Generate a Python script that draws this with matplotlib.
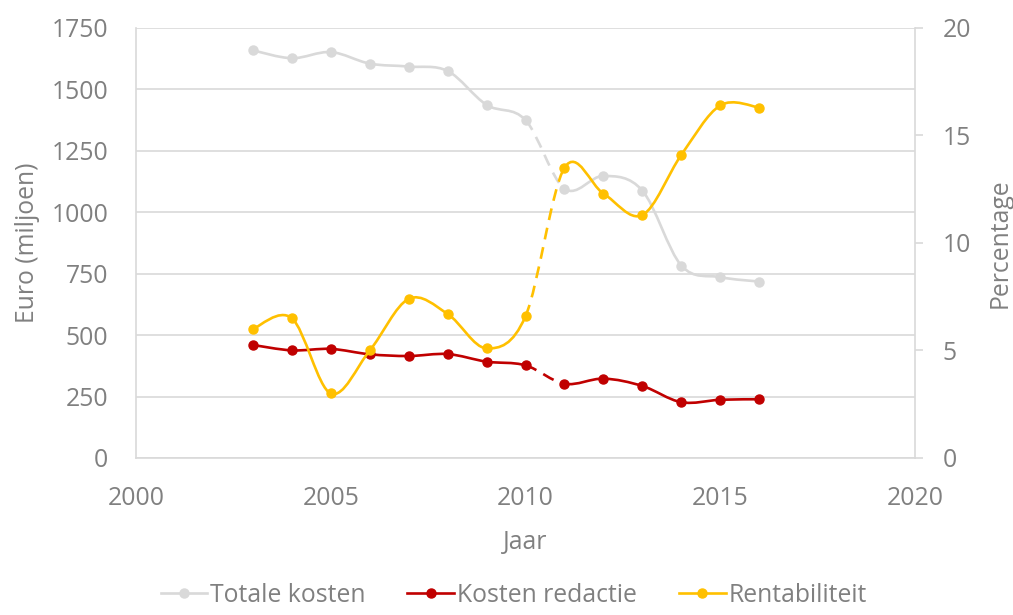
import numpy as np
import matplotlib
matplotlib.use("Agg")
import matplotlib.pyplot as plt
from matplotlib.path import Path
from matplotlib.patches import PathPatch
from matplotlib.lines import Line2D

jaren = [2003, 2004, 2005, 2006, 2007, 2008, 2009, 2010,
         2011, 2012, 2013, 2014, 2015, 2016]
totale_kosten = [1659, 1627, 1652, 1605, 1593, 1575, 1437, 1375,
                 1096, 1148, 1088, 783, 736, 718]
kosten_redactie = [460, 438, 444, 422, 415, 423, 392, 377,
                   302, 323, 293, 227, 237, 239]
rentabiliteit = [6.0, 6.5, 3.0, 5.0, 7.4, 6.7, 5.1, 6.6,
                 13.5, 12.3, 11.3, 14.1, 16.4, 16.3]

GRIJS = "#d9d9d9"
ROOD = "#c00000"
GOUD = "#ffc000"
TEKST = "#808080"
DASH_IDX = 7  # segment 2010 -> 2011 is dashed

plt.rcParams['font.family'] = ['Open Sans', 'DejaVu Sans']
plt.rcParams['font.size'] = 17.8


def smooth_paths(x, y, dash_idx):
    # Excel-like smoothed line: cubic bezier, control points from neighbours
    p = np.column_stack([x, y]).astype(float)
    n = len(p)
    solid_v, solid_c = [p[0]], [Path.MOVETO]
    dash_v, dash_c = [], []
    for i in range(n - 1):
        p0 = p[i - 1] if i > 0 else p[i]
        p3 = p[i + 2] if i + 2 < n else p[i + 1]
        c1 = p[i] + (p[i + 1] - p0) / 6
        c2 = p[i + 1] - (p3 - p[i]) / 6
        if i == dash_idx:
            dash_v += [p[i], c1, c2, p[i + 1]]
            dash_c += [Path.MOVETO, Path.CURVE4, Path.CURVE4, Path.CURVE4]
            solid_v.append(p[i + 1])
            solid_c.append(Path.MOVETO)
        else:
            solid_v += [c1, c2, p[i + 1]]
            solid_c += [Path.CURVE4] * 3
    return Path(solid_v, solid_c), Path(dash_v, dash_c)


def draw_series(ax, y, color, z):
    solid, dashed = smooth_paths(jaren, y, DASH_IDX)
    ax.add_patch(PathPatch(solid, fill=False, edgecolor=color, lw=1.9, zorder=z))
    ax.add_patch(PathPatch(dashed, fill=False, edgecolor=color, lw=1.9,
                           linestyle=(0, (4.5, 3)), zorder=z))
    ax.plot(jaren, y, 'o', color=color, markersize=6.5, zorder=z + 0.1)


fig = plt.figure(figsize=(10.13, 6.15), dpi=100)
ax = fig.add_axes([0.1343, 0.2553, 0.769, 0.6992])
ax2 = ax.twinx()

draw_series(ax, totale_kosten, GRIJS, 3)
draw_series(ax, kosten_redactie, ROOD, 4)
draw_series(ax2, rentabiliteit, GOUD, 3)

ax.set_xlim(2000, 2020)
ax.set_ylim(0, 1750)
ax2.set_ylim(0, 20)
ax.set_xticks([2000, 2005, 2010, 2015, 2020])
ax.set_yticks(np.arange(0, 1751, 250))
ax2.set_yticks([0, 5, 10, 15, 20])

ax.grid(axis='y', color=GRIJS, lw=1.2)
ax.set_axisbelow(True)
for a in (ax, ax2):
    a.spines['top'].set_visible(False)
    for s in ('left', 'right', 'bottom'):
        a.spines[s].set_color(GRIJS)
        a.spines[s].set_linewidth(1.2)
ax.spines['right'].set_visible(False)
ax2.spines['left'].set_visible(False)
ax2.spines['bottom'].set_visible(False)

ax.tick_params(axis='y', length=0, pad=20, labelcolor=TEKST)
ax.tick_params(axis='x', length=0, pad=20, labelcolor=TEKST)
ax2.tick_params(axis='y', length=6, width=1.2, color=GRIJS, pad=14, labelcolor=TEKST)

ax.set_xlabel("Jaar", color=TEKST, labelpad=14)
ax.set_ylabel("Euro (miljoen)", color=TEKST, labelpad=8)
ax2.set_ylabel("Percentage", color=TEKST, labelpad=12)

handles = [Line2D([], [], color=c, lw=1.9, marker='o', markersize=6.5)
           for c in (GRIJS, ROOD, GOUD)]
fig.legend(handles, ["Totale kosten", "Kosten redactie", "Rentabiliteit"],
           loc='lower center', bbox_to_anchor=(0.507, -0.025), ncol=3,
           frameon=False, labelcolor=TEKST, handlelength=1.9,
           handletextpad=0.1, columnspacing=1.7)

fig.savefig("out.png", dpi=100)
